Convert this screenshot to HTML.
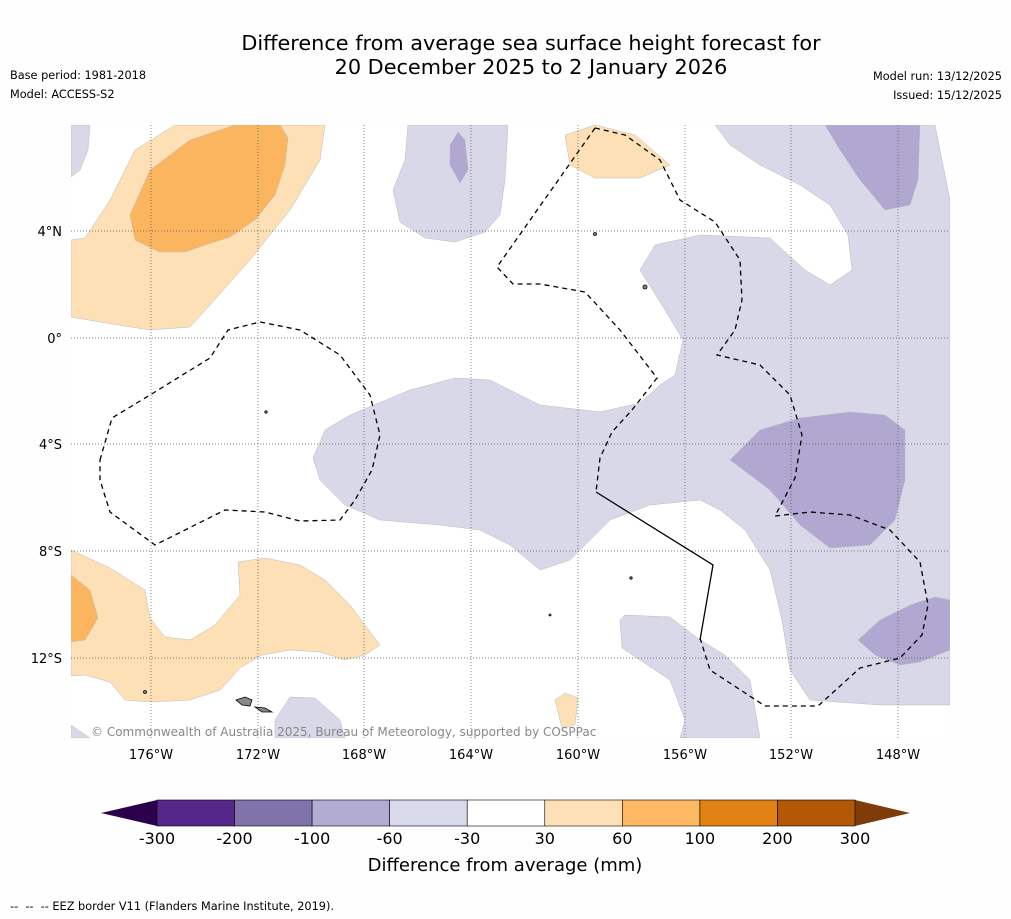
<!DOCTYPE html>
<html><head><meta charset="utf-8"><style>
body{margin:0;background:#fefefe;width:1011px;height:919px;overflow:hidden;font-family:"DejaVu Sans","Liberation Sans",sans-serif}
.t{position:absolute;font-size:11.3px;color:#000}
</style></head><body>
<div class="t" style="left:0;width:1062px;top:31px;text-align:center;font-size:20.8px;line-height:24px">Difference from average sea surface height forecast for<br>20 December 2025 to 2 January 2026</div>
<div class="t" style="left:10px;top:69px">Base period: 1981-2018</div>
<div class="t" style="left:10px;top:88px">Model: ACCESS-S2</div>
<div class="t" style="right:9px;top:70px">Model run: 13/12/2025</div>
<div class="t" style="right:9px;top:89px">Issued: 15/12/2025</div>
<div class="t" style="left:10px;top:900px">-- &nbsp;-- &nbsp;-- EEZ border V11 (Flanders Marine Institute, 2019).</div>
<svg width="1011" height="919" style="position:absolute;left:0;top:0" id="svg">
<defs><clipPath id="mc"><rect x="71" y="125" width="879" height="613"/></clipPath></defs>
<g clip-path="url(#mc)">
<rect x="71" y="125" width="879" height="613" fill="#fff"/>
<g stroke="#bbb" stroke-width="0.5">
<polygon fill="#fde0b5" points="71,240 85,238 110,200 135,150 175,125 325,125 320,160 290,210 250,260 210,305 190,327 150,330 100,322 71,317"/>
<polygon fill="#fbb55f" points="130,215 150,170 190,140 235,125 280,125 288,138 285,165 275,195 255,220 230,237 205,245 185,252 160,252 135,240"/>
<polygon fill="#d8d8e9" points="71,125 90,125 88,150 80,170 71,177"/>
<polygon fill="#d8d8e9" points="408,125 508,125 505,180 500,215 485,232 455,242 425,238 400,222 393,190 405,160"/>
<polygon fill="#b0a8d0" points="450,145 458,132 465,140 468,170 460,183 450,165"/>
<polygon fill="#fde0b5" points="565,135 595,125 635,135 670,165 640,178 595,178 570,165"/>
<polygon fill="#d8d8e9" points="715,125 935,125 950,200 950,705 880,705 810,700 790,670 782,620 770,570 745,530 720,510 700,500 650,505 610,520 570,560 540,570 510,545 480,530 440,525 380,520 345,505 320,480 313,458 325,430 350,415 410,390 455,378 490,380 540,405 600,412 640,403 660,385 675,375 683,340 665,310 640,270 655,245 700,235 770,238 805,270 830,285 852,270 848,235 830,205 800,185 760,165 730,145"/>
<polygon fill="#b0a8d0" points="825,125 920,125 918,180 910,205 885,210 860,180 840,150"/>
<polygon fill="#b0a8d0" points="730,460 760,430 800,418 850,412 885,415 905,430 905,480 895,520 870,545 830,548 800,525 770,490"/>
<polygon fill="#b0a8d0" points="858,640 880,620 910,605 935,597 950,600 950,650 920,662 900,665 875,655"/>
<polygon fill="#d8d8e9" points="620,620 625,615 670,617 700,640 725,655 750,680 760,738 680,738 685,720 670,680 640,660 622,648"/>
<polygon fill="#d8d8e9" points="275,720 290,697 315,698 340,720 345,738 275,738"/>
<polygon fill="#d8d8e9" points="71,725 90,738 71,738"/>
<polygon fill="#fde0b5" points="71,550 110,568 145,590 150,618 165,637 190,640 215,625 240,595 238,562 265,558 300,565 325,580 350,605 380,645 365,655 345,660 320,652 290,650 262,655 240,668 220,690 190,700 150,702 125,700 110,682 85,675 71,676"/>
<polygon fill="#fbb55f" points="71,575 90,590 98,618 85,640 71,642"/>
<polygon fill="#fde0b5" points="555,700 565,693 578,698 575,725 562,728"/>
</g>
<g stroke="#555" stroke-width="0.7" stroke-dasharray="1,2">
<line x1="151" y1="125" x2="151" y2="738"/><line x1="258" y1="125" x2="258" y2="738"/><line x1="364" y1="125" x2="364" y2="738"/><line x1="471" y1="125" x2="471" y2="738"/><line x1="578" y1="125" x2="578" y2="738"/><line x1="685" y1="125" x2="685" y2="738"/><line x1="791" y1="125" x2="791" y2="738"/><line x1="898" y1="125" x2="898" y2="738"/>
<line x1="71" y1="231" x2="950" y2="231"/><line x1="71" y1="338" x2="950" y2="338"/><line x1="71" y1="444" x2="950" y2="444"/><line x1="71" y1="551" x2="950" y2="551"/><line x1="71" y1="658" x2="950" y2="658"/>
</g>
<g fill="none" stroke="#000" stroke-width="1.3">
<polyline stroke-dasharray="5,4" points="100,460 112,418 150,395 210,358 228,330 260,322 300,330 340,355 370,395 380,435 372,470 355,500 340,520 300,521 265,512 225,510 155,545 110,512 100,480 100,460"/>
<polyline stroke-dasharray="5,4" points="595,128 497,267 513,284 540,284 585,292 620,330 657,378 632,410 612,432 600,458 596,492"/>
<polyline stroke-dasharray="5,4" points="595,128 625,135 660,160 680,200 715,222 740,260 742,300 735,330 717,355 760,365 790,395 802,435 795,478 775,516 810,512 850,515 890,530 920,562 928,605 922,635 900,658 860,668 818,706 765,706 710,670 700,638"/>
<polyline points="596,492 713,565 700,640"/>
</g>
<g fill="#888" stroke="#000" stroke-width="0.8">
<polygon points="236,700 245,697 252,700 250,706 242,705"/><polygon points="255,707 265,708 272,712 262,712"/>
<circle cx="645" cy="287" r="2"/><circle cx="595" cy="234" r="1.5"/><circle cx="145" cy="692" r="1.5"/><circle cx="266" cy="412" r="1.2"/><circle cx="631" cy="578" r="1.2"/><circle cx="550" cy="615" r="1"/>
</g>
</g>
<text x="91" y="736" font-size="12" fill="#888" font-family="DejaVu Sans,sans-serif">© Commonwealth of Australia 2025, Bureau of Meteorology, supported by COSPPac</text>
<g font-size="13" font-family="DejaVu Sans,sans-serif" fill="#000">
<g text-anchor="middle"><text x="151" y="759">176°W</text><text x="258" y="759">172°W</text><text x="364" y="759">168°W</text><text x="471" y="759">164°W</text><text x="578" y="759">160°W</text><text x="685" y="759">156°W</text><text x="791" y="759">152°W</text><text x="898" y="759">148°W</text></g>
<g text-anchor="end"><text x="62" y="236">4°N</text><text x="62" y="343">0°</text><text x="62" y="449">4°S</text><text x="62" y="556">8°S</text><text x="62" y="663">12°S</text></g>
</g>
<g id="cbar"></g>
<text x="505" y="871" text-anchor="middle" font-size="18" font-family="DejaVu Sans,sans-serif">Difference from average (mm)</text>
</svg>
<script>
const binColors=["#542788","#8073ac","#b2abd2","#d8daeb","#ffffff","#fee0b6","#fdb863","#e08214","#b35806"];
const tickLabels=["-300","-200","-100","-60","-30","30","60","100","200","300"];
const extendColors=["#2d004b","#7f3b08"];
const g=document.getElementById('cbar'),NS='http://www.w3.org/2000/svg';
const x0=157,x1=855,y0=800,h=26,w=(x1-x0)/binColors.length;
function mk(t,a){const e=document.createElementNS(NS,t);for(const k in a)e.setAttribute(k,a[k]);g.appendChild(e);return e;}
let l=mk('polygon',{points:`101,813 ${x0},${y0} ${x0},${y0+h}`,fill:extendColors[0]});


let r=mk('polygon',{points:`910,813 ${x1},${y0} ${x1},${y0+h}`,fill:extendColors[1]});


binColors.forEach((c,i)=>{const e=mk('rect',{x:x0+i*w,y:y0,width:w,height:h,fill:c,stroke:'#000','stroke-width':0.6});

});
tickLabels.forEach((t,i)=>{const e=mk('text',{x:x0+i*w,y:844,'text-anchor':'middle','font-size':16,'font-family':'DejaVu Sans,sans-serif'});e.textContent=t;

});
</script>
</body></html>
